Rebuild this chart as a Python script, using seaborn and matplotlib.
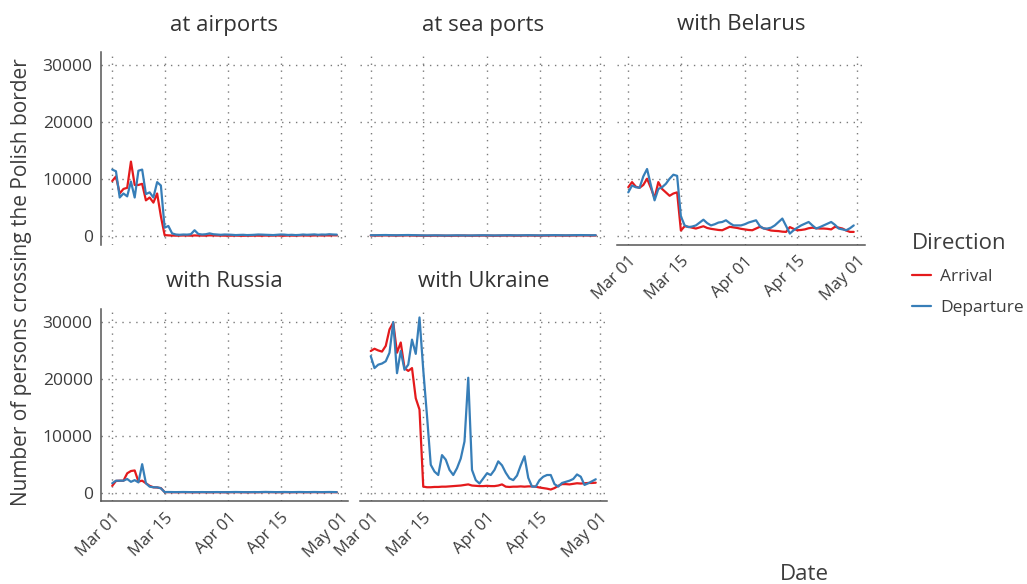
import matplotlib
matplotlib.use("Agg")
import numpy as np
import pandas as pd
import matplotlib.pyplot as plt
from matplotlib.lines import Line2D
import seaborn as sns

# Daily counts, 1 March - 30 April 2022
dates = pd.date_range("2022-03-01", "2022-04-30", freq="D")

borders = ["at airports", "at sea ports", "with Belarus", "with Russia", "with Ukraine"]
directions = ["Arrival", "Departure"]

airports_arrival = [9700, 10500, 7500, 8300, 8500, 13100, 9000, 9000, 9200, 6300,
                    6800, 5900, 7500, 3500, 200,
                    150, 120, 100, 110, 130, 120, 100, 140, 120, 110,
                    100, 150, 130, 120, 110, 100, 90, 100, 110, 90,
                    80, 100, 90, 110, 100, 90, 120, 100, 110, 130,
                    100, 90, 120, 110, 100, 130, 140, 120, 110, 130,
                    150, 120, 140, 130, 160, 150]
airports_departure = [11700, 11400, 6800, 7500, 7000, 9600, 6800, 11500, 11700, 7400,
                      7700, 6800, 9500, 8900, 1500,
                      1800, 500, 300, 250, 300, 280, 350, 1050, 400, 300,
                      350, 500, 350, 300, 250, 300, 280, 250, 200, 230,
                      250, 200, 220, 250, 300, 280, 250, 230, 200, 250,
                      300, 280, 220, 250, 200, 230, 300, 250, 280, 320,
                      250, 300, 280, 350, 300, 280]

seaports_arrival = [120, 130, 110, 140, 150, 130, 120, 110, 130, 140,
                    150, 120, 110, 100, 90, 80, 90, 100, 110, 100,
                    90, 80, 90, 100, 110, 120, 100, 90, 100, 110,
                    120, 110, 100, 90, 100, 110, 120, 130, 110, 100,
                    110, 120, 130, 120, 110, 100, 110, 120, 130, 140,
                    130, 120, 110, 120, 130, 140, 150, 140, 130, 120,
                    130]
seaports_departure = [180, 170, 190, 200, 210, 190, 180, 170, 190, 200,
                      210, 190, 180, 160, 150, 140, 150, 160, 150, 140,
                      130, 140, 150, 160, 150, 140, 130, 140, 150, 160,
                      170, 160, 150, 140, 150, 160, 170, 180, 160, 150,
                      160, 170, 180, 170, 160, 150, 160, 170, 180, 190,
                      180, 170, 160, 170, 180, 190, 200, 190, 180, 170,
                      180]

belarus_arrival = [8600, 9500, 8700, 8500, 9000, 10100, 8500, 6700, 9500, 8300,
                   7700, 7100, 7500, 7700, 1000,
                   1750, 1650, 1500, 1350, 1550, 1750, 1450, 1300, 1200, 1100,
                   1050, 1350, 1650, 1550, 1450, 1300, 1200, 1100, 1050, 1350,
                   1650, 1400, 1200, 1000, 940, 900, 800, 760, 1600, 1300,
                   1050, 1100, 1200, 1400, 1500, 1400, 1350, 1350, 1300, 1200,
                   1650, 1500, 1350, 1000, 760, 760]
belarus_departure = [7700, 8900, 8600, 8500, 10500, 11800, 9000, 6300, 8300, 8600,
                     9200, 10100, 10800, 10600, 3500,
                     1900, 1600, 1700, 1900, 2400, 2900, 2300, 1900, 2100, 2400,
                     2500, 2800, 2300, 1900, 1900, 1900, 2100, 2400, 2600, 2800,
                     1800, 1350, 1350, 1500, 1900, 2500, 3100, 1800, 470, 1050,
                     1500, 1900, 2200, 2500, 1900, 1350, 1600, 1900, 2200, 2500,
                     2000, 1350, 1200, 1050, 1400, 1900]

russia_arrival = [1200, 2050, 2100, 2100, 3400, 3800, 3900, 1950, 2100, 1650,
                  1200, 940, 900, 800, 100,
                  90, 80, 70, 80, 90, 80, 70, 60, 70, 80,
                  70, 60, 70, 80, 70, 60, 70, 80, 90, 80,
                  70, 60, 70, 80, 70, 90, 100, 90, 80, 70,
                  80, 90, 80, 70, 80, 90, 80, 70, 80, 90,
                  80, 70, 80, 90, 80, 70]
russia_departure = [1650, 2100, 2100, 2100, 2400, 1900, 2200, 1800, 5000, 1650,
                    1050, 940, 940, 760, 100,
                    110, 100, 90, 100, 110, 100, 90, 80, 90, 100,
                    90, 80, 90, 100, 90, 80, 90, 100, 110, 100,
                    90, 80, 90, 100, 90, 110, 120, 110, 100, 90,
                    100, 110, 100, 90, 100, 110, 100, 90, 100, 110,
                    100, 90, 100, 110, 100, 90]

ukraine_arrival = [24900, 25300, 25000, 24800, 25800, 28700, 29900, 24600, 26400, 21900,
                   21400, 21900, 16600, 14600, 1060,
                   950, 950, 1000, 1000, 1050, 1050, 1100, 1150, 1200, 1250,
                   1350, 1450, 1250, 1200, 1150, 1150, 1200, 1150, 1150, 1250,
                   1450, 1050, 1000, 1050, 1050, 1100, 1050, 1100, 1100, 1050,
                   900, 800, 700, 550, 800, 1200, 1500, 1500, 1450, 1550,
                   1650, 1600, 1650, 1700, 1700, 1750]
ukraine_departure = [24000, 21900, 22500, 22700, 23100, 24600, 30000, 21000, 24900, 21600,
                     22500, 26900, 24400, 30800, 21600,
                     13500, 4900, 3700, 3100, 6600, 5800, 4000, 3100, 4300, 6000,
                     9000, 20200, 4000, 2200, 1600, 2500, 3400, 3100, 4000, 5500,
                     4800, 3500, 2500, 2200, 3000, 4800, 6400, 2600, 1060, 1060,
                     2200, 2800, 3100, 3100, 1500, 1060, 1700, 1900, 2100, 2400,
                     3200, 2800, 1350, 1650, 2000, 2350]

series = {
    "at airports": (airports_arrival, airports_departure),
    "at sea ports": (seaports_arrival, seaports_departure),
    "with Belarus": (belarus_arrival, belarus_departure),
    "with Russia": (russia_arrival, russia_departure),
    "with Ukraine": (ukraine_arrival, ukraine_departure),
}

frames = []
for border, (arr, dep) in series.items():
    for direction, vals in zip(directions, (arr, dep)):
        frames.append(pd.DataFrame({"date": dates, "border": border,
                                    "direction": direction, "persons": vals}))
df = pd.concat(frames, ignore_index=True)

palette = {"Arrival": "#E41A1C", "Departure": "#377EB8"}

sns.set_theme(style="white")
plt.rcParams["font.family"] = ["Open Sans", "DejaVu Sans"]

W, H = 1027, 584
fig = plt.figure(figsize=(W / 100, H / 100), dpi=100)
fig.patch.set_facecolor("white")


def px_axes(x0, y0, x1, y1):
    return fig.add_axes([x0 / W, 1 - y1 / H, (x1 - x0) / W, (y1 - y0) / H])


# panel boxes in pixels: x0, y0, x1, y1, show y axis, show x axis
panels = {
    "at airports": (101, 52, 348, 245, True, False),
    "at sea ports": (359.5, 52, 607, 245, False, False),
    "with Belarus": (617, 52, 865, 245, False, True),
    "with Russia": (101, 308.7, 348, 501.4, True, True),
    "with Ukraine": (359.5, 308.7, 607, 501.4, False, True),
}

xticks = pd.to_datetime(["2022-03-01", "2022-03-15", "2022-04-01", "2022-04-15", "2022-05-01"])
xtick_labels = ["Mar 01", "Mar 15", "Apr 01", "Apr 15", "May 01"]
yticks = [0, 10000, 20000, 30000]

text_col = "#3d3d3d"

for border in borders:
    x0, y0, x1, y1, show_y, show_x = panels[border]
    ax = px_axes(x0, y0, x1, y1)
    sub = df[df["border"] == border]
    sns.lineplot(data=sub, x="date", y="persons", hue="direction",
                 hue_order=directions, palette=palette, ax=ax,
                 legend=False, linewidth=1.6)
    ax.set_xlim(pd.Timestamp("2022-02-26"), pd.Timestamp("2022-05-03"))
    ax.set_ylim(-1540, 32340)
    ax.set_xticks(xticks)
    ax.set_yticks(yticks)
    ax.set_xlabel("")
    ax.set_ylabel("")
    ax.grid(True, color="#7a7a7a", linestyle=(0, (1, 4)), linewidth=1.0)
    ax.set_axisbelow(True)
    for s in ax.spines.values():
        s.set_visible(False)
    ax.tick_params(length=0, colors=text_col)
    if show_y:
        ax.spines["left"].set_visible(True)
        ax.spines["left"].set_color("#555555")
        ax.spines["left"].set_linewidth(1.1)
        ax.set_yticklabels([str(v) for v in yticks], fontsize=12.5, color=text_col)
        ax.tick_params(axis="y", pad=6)
    else:
        ax.tick_params(axis="y", labelleft=False)
    if show_x:
        ax.spines["bottom"].set_visible(True)
        ax.spines["bottom"].set_color("#555555")
        ax.spines["bottom"].set_linewidth(1.1)
        ax.set_xticklabels(xtick_labels, fontsize=12, color=text_col,
                           rotation=45, ha="right", va="top",
                           rotation_mode="anchor")
        ax.tick_params(axis="x", pad=6)
    else:
        ax.tick_params(axis="x", labelbottom=False)
    fig.text((x0 + x1) / 2 / W, 1 - (y0 - 27) / H, border, ha="center",
             va="center", fontsize=16, color="#333333")

fig.text(22 / W, 1 - 58 / H, "Number of persons crossing the Polish border",
         rotation=90, ha="center", va="top", fontsize=15, color=text_col)
fig.text(804 / W, 1 - 574 / H, "Date", ha="center", va="center",
         fontsize=16, color=text_col)

handles = [Line2D([], [], color=palette[d], linewidth=1.6) for d in directions]
leg = fig.legend(handles, directions, title="Direction", loc="upper left",
                 bbox_to_anchor=(912 / W, 1 - 233 / H), frameon=False,
                 fontsize=12.5, title_fontsize=16, handlelength=1.1,
                 labelspacing=0.85, handletextpad=0.5, borderaxespad=0,
                 borderpad=0)
leg._legend_box.align = "left"
leg.get_title().set_color(text_col)
for t in leg.get_texts():
    t.set_color(text_col)

fig.savefig("out.png", dpi=100, facecolor="white")
